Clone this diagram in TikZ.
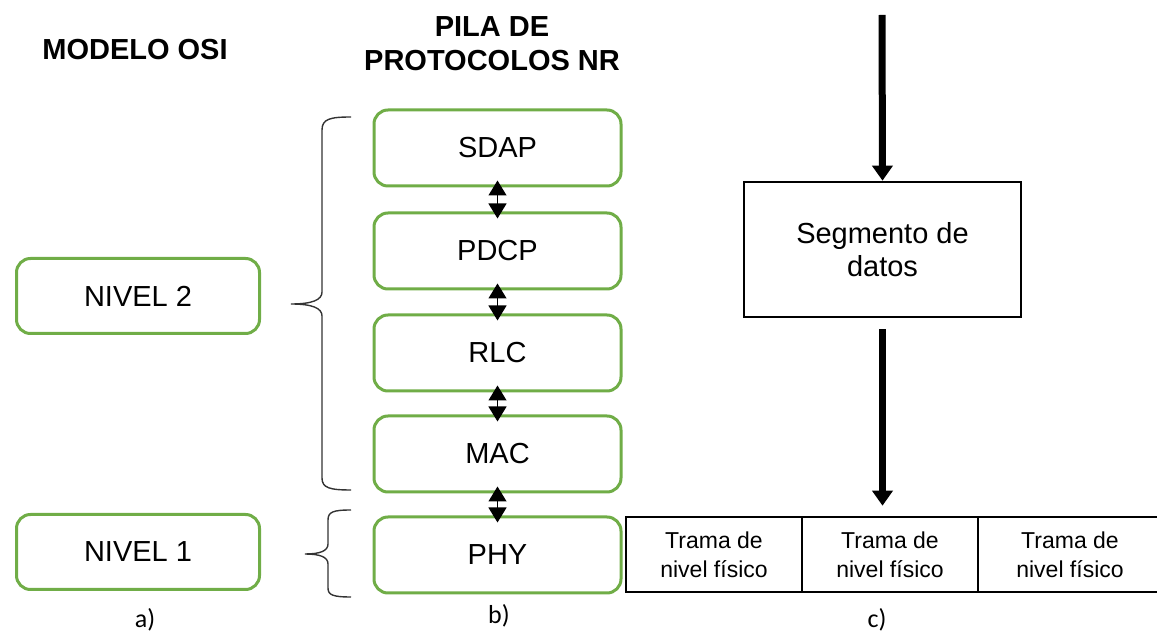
\documentclass[tikz,border=0pt]{standalone}
\usepackage{fontspec}
\setmainfont{Liberation Sans}
\newfontfamily\calibri{Carlito}
\usetikzlibrary{arrows.meta}
\definecolor{verde}{RGB}{112,173,71}

\begin{document}
\begin{tikzpicture}[x=0.5pt,y=-0.5pt,
    titulo/.style={font=\fontsize{14.5}{17}\selectfont\bfseries, align=center},
    nivel/.style={draw=verde, line width=1.5pt, rounded corners=7pt, minimum width=121.5pt, minimum height=37.5pt, font=\fontsize{14.5}{17}\selectfont},
    capa/.style={draw=verde, line width=1.5pt, rounded corners=7pt, minimum width=123.5pt, minimum height=38pt, font=\fontsize{14.5}{17}\selectfont},
    bloque/.style={draw, line width=1.3pt, align=center, font=\fontsize{14.5}{16.5}\selectfont},
    trama/.style={draw, line width=1.3pt, align=center, minimum height=37.5pt, font=\fontsize{11.5}{14.5}\selectfont},
    doble/.style={{Triangle[length=7.5pt,width=9pt]}-{Triangle[length=7.5pt,width=9pt]}, line width=0.6pt, shorten <=-3.5pt, shorten >=-3.5pt},
    flecha/.style={-{Triangle[length=7.5pt,width=10pt]}, line width=3.5pt},
    llave/.style={black!80, line width=0.7pt},
    letra/.style={font=\calibri\fontsize{13}{15}\selectfont}]
  \useasboundingbox (0,0) rectangle (1157,635);

  \node[titulo] (osi) at (135,50) {MODELO OSI};
  \node[titulo] (pila) at (492,44) {PILA DE\\PROTOCOLOS NR};

  \node[nivel] (n2) at (138,296) {NIVEL 2};
  \node[nivel] (n1) at (138,552) {NIVEL 1};

  \foreach \nombre/\texto/\y in {sdap/SDAP/148, pdcp/PDCP/251, rlc/RLC/353, mac/MAC/454, phy/PHY/555}{
    \node[capa] (\nombre) at (497.5,\y) {\texto};
  }
  \foreach \a/\b in {sdap/pdcp, pdcp/rlc, rlc/mac, mac/phy}{
    \draw[doble] (\a.south) -- (\b.north);
  }

  \draw[llave] (351,117) .. controls (330,117) and (322,119) .. (322,130) -- (322,292)
    .. controls (322,300) and (312,304) .. (291,304) .. controls (312,304) and (322,308) .. (322,316)
    -- (322,478) .. controls (322,488) and (330,490) .. (351,490);
  \draw[llave] (351,510) .. controls (333,510) and (328,512) .. (328,520) -- (328,544)
    .. controls (328,551) and (320,554) .. (305,554) .. controls (320,554) and (328,557) .. (328,564)
    -- (328,588) .. controls (328,595) and (333,597) .. (351,597);

  \coordinate (entrada) at (882,15);
  \node[bloque, minimum width=138.5pt, minimum height=67.5pt] (seg) at (882.5,249.5) {Segmento de\\datos};
  \node[trama, minimum width=88pt] (t1) at (714,554.5) {Trama de\\nivel físico};
  \node[trama, minimum width=88pt] (t2) at (890,554.5) {Trama de\\nivel físico};
  \node[trama, minimum width=92pt] (t3) at (1070,554.5) {Trama de\\nivel físico};
  \draw[flecha] (entrada) -- (seg.north);
  \draw[flecha, shorten <=5.5pt, shorten >=5pt] (seg.south) -- (seg.south |- t2.north);

  \node[letra] (a) at (145,620) {a)};
  \node[letra] (b) at (499,616) {b)};
  \node[letra] (c) at (877,620) {c)};
\end{tikzpicture}
\end{document}
